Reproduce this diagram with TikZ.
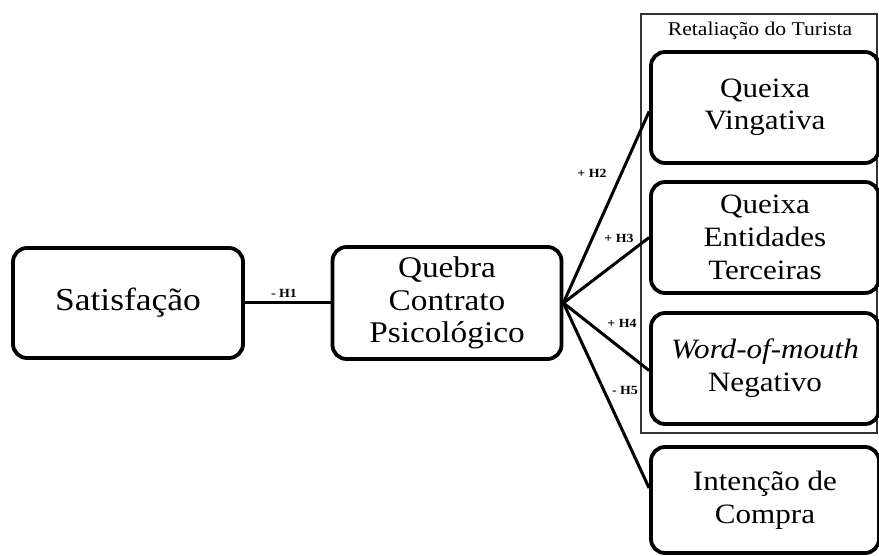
\documentclass[tikz,border=0pt]{standalone}
\usepackage{fontspec}
\setmainfont{Liberation Serif}[FakeStretch=1.11]
\usetikzlibrary{calc}
\begin{document}
\begin{tikzpicture}[x=1pt,y=-1pt,
  box/.style={draw=black, line width=3.8pt, rounded corners=14pt, align=center,
    inner sep=0pt},
  conn/.style={draw=black, line width=3pt},
  hyp/.style={font=\bfseries\fontsize{12.5}{14}\selectfont, inner sep=1pt},
  frame/.style={draw=black!80, line width=1.3pt}]
\useasboundingbox (0,0) rectangle (879,556);
\draw[frame] (641,14) rectangle (877,433);
\node[font=\fontsize{19.5}{22}\selectfont] (title) at (760,31) {Retaliação do Turista};
\node[box, font=\fontsize{32}{34}\selectfont, minimum width=230pt, minimum height=110pt] (sat) at (128,303) {Satisfação};
\node[box, font=\fontsize{30}{32.5}\selectfont, minimum width=229pt, minimum height=112pt] (qb) at (447,303) {Quebra\\Contrato\\Psicológico};
\node[box, font=\fontsize{28}{32.5}\selectfont, minimum width=228pt, minimum height=111pt] (qv) at (765,107.5) {Queixa\\Vingativa};
\node[box, font=\fontsize{28}{33}\selectfont, minimum width=228pt, minimum height=111pt] (qe) at (765,237.5) {Queixa\\Entidades\\Terceiras};
\node[box, font=\fontsize{28}{33}\selectfont, minimum width=228pt, minimum height=111pt] (wom) at (765,368.5) {\textit{Word-of-mouth}\\Negativo};
\node[box, font=\fontsize{28}{33}\selectfont, minimum width=228pt, minimum height=106pt] (ic) at (765,500) {Intenção de\\Compra};
\draw[conn] (sat.east) -- (qb.west);
\draw[conn] (qb.east) -- ($(qv.west)+(0,4)$);
\draw[conn] (qb.east) -- (qe.west);
\draw[conn] (qb.east) -- ($(wom.west)+(0,2)$);
\draw[conn] (qb.east) -- ($(ic.west)+(0,-12)$);
\node[hyp] (h1) at (284,293) {- H1};
\node[hyp] (h2) at (592,173) {+ H2};
\node[hyp] (h3) at (619,238) {+ H3};
\node[hyp] (h4) at (622,323) {+ H4};
\node[hyp] (h5) at (625,390) {- H5};
\end{tikzpicture}
\end{document}
